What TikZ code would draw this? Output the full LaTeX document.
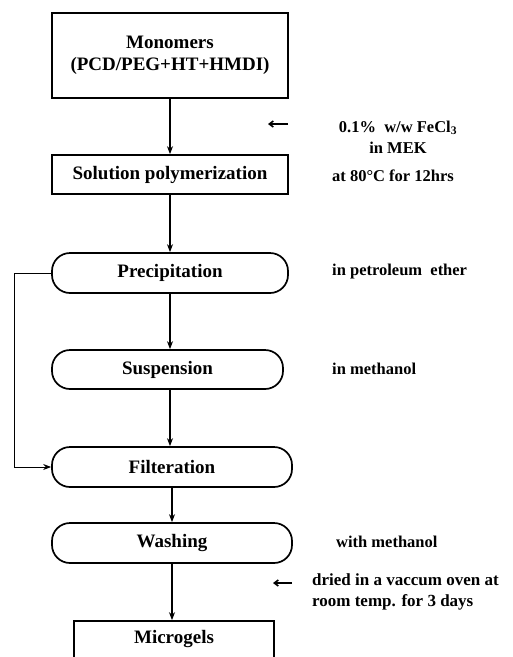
\documentclass[tikz,border=0pt]{standalone}
\usepackage{fontspec}
\setmainfont{Liberation Serif}
\usetikzlibrary{arrows.meta}
\begin{document}
\begin{tikzpicture}[x=1pt,y=-1pt,
  every node/.style={font=\bfseries\fontsize{19}{22}\selectfont, inner sep=0pt},
  rectbox/.style={draw, line width=1.7pt, align=center},
  roundbox/.style={draw, line width=1.7pt, rounded corners=18pt},
  note/.style={font=\bfseries\fontsize{16.5}{21}\selectfont, anchor=west, align=left},
  flow/.style={line width=1.8pt, -{Stealth[length=8pt,width=6pt]}},
  back/.style={line width=1pt, -{Stealth[length=8pt,width=6pt]}},
  side/.style={line width=1.6pt, -{Straight Barb[length=4pt,width=6pt]}}]
\clip (0,0) rectangle (513,657);
\fill[white] (0,0) rectangle (513,657);

\node[rectbox, minimum width=236pt, minimum height=85pt] (mono) at (170,55.5)
  {Monomers\\(PCD/PEG+HT+HMDI)};
\node[rectbox, minimum width=236pt, minimum height=39pt] (sol) at (170,174.5)
  {Solution polymerization};
\node[roundbox, minimum width=236pt, minimum height=40pt] (prec) at (170,273)
  {Precipitation};
\node[roundbox, minimum width=231pt, minimum height=39pt] (susp) at (167.5,369.5)
  {Suspension};
\node[roundbox, minimum width=240pt, minimum height=40pt] (filt) at (172,467)
  {Filteration};
\node[roundbox, minimum width=240pt, minimum height=40pt] (wash) at (172,543)
  {Washing};
\node[rectbox, minimum width=200pt, minimum height=58pt] (micro) at (174,650) {};
\node (microt) at (174,639) {Microgels};

\draw[flow] (mono.south) -- (sol.north);
\draw[flow] (sol.south) -- (prec.north);
\draw[flow] (prec.south) -- (prec.south |- susp.north);
\draw[flow] (prec.south |- susp.south) -- (prec.south |- filt.north);
\draw[flow] (filt.south) -- (wash.north);
\draw[flow] (wash.south) -- (micro.north -| wash.south);

\coordinate (fb) at (14,273);
\draw[back] (prec.west) -- (fb) |- (filt.west);

\coordinate (s1a) at (288,124);
\coordinate (s1b) at (268,124);
\draw[side] (s1a) -- (s1b);
\coordinate (s2a) at (292,583);
\coordinate (s2b) at (273,583);
\draw[side] (s2a) -- (s2b);

\node[note, anchor=center, align=center] (n1) at (398,137) {0.1\%\ \ w/w FeCl\textsubscript{3}\\in MEK};
\node[note] (n2) at (332,176) {at 80°C\ for\ 12hrs};
\node[note] (n3) at (332,272) {in petroleum\ \ ether};
\node[note] (n4) at (332,369) {in methanol};
\node[note] (n5) at (336,542) {with methanol};
\node[note, font=\bfseries\fontsize{17}{21}\selectfont] (n6) at (312,592) {dried in a vaccum oven at\\room temp. for 3 days};
\end{tikzpicture}
\end{document}
